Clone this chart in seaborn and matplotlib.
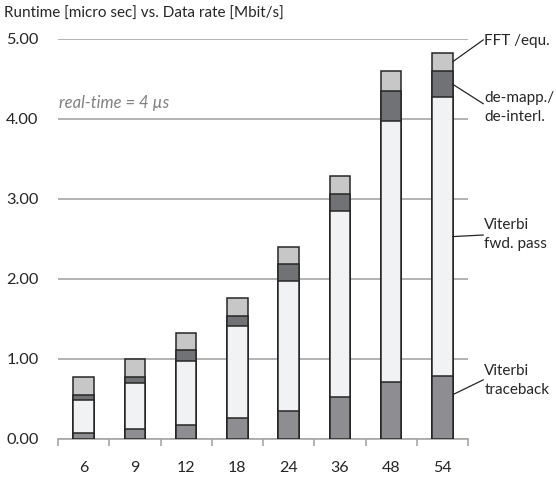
import numpy as np
import pandas as pd
import matplotlib
matplotlib.use("Agg")
import matplotlib.pyplot as plt
import seaborn as sns

# ---- data ----
rates = ["6", "9", "12", "18", "24", "36", "48", "54"]
traceback = [0.08, 0.125, 0.175, 0.26, 0.35, 0.53, 0.71, 0.79]
fwd_pass = [0.41, 0.575, 0.805, 1.15, 1.63, 2.32, 3.27, 3.48]
demapp = [0.06, 0.075, 0.13, 0.13, 0.21, 0.21, 0.37, 0.33]
fft_equ = [0.23, 0.225, 0.22, 0.22, 0.21, 0.23, 0.25, 0.23]
yticks = [0, 1, 2, 3, 4, 5]
series_labels = ["Viterbi\ntraceback", "Viterbi\nfwd. pass", "de-mapp./\nde-interl.", "FFT /equ."]
title = "Runtime [micro sec] vs. Data rate [Mbit/s]"
realtime_label = "real-time = 4 µs"

sns.set_theme(style="white")
plt.rcParams['font.family'] = ['Lato', 'DejaVu Sans']

colors = ["#8e8e92", "#f1f2f4", "#717275", "#c7c7c7"]
series = [traceback, fwd_pass, demapp, fft_equ]

df = pd.DataFrame({"rate": rates})
cum = np.zeros(len(rates))
cols = []
for i, s in enumerate(series):
    cum = cum + np.array(s)
    df[f"c{i}"] = cum
    cols.append(f"c{i}")

fig = plt.figure(figsize=(5.56, 4.83), dpi=100)
ax = fig.add_axes([58/556, 44/483, 410/556, 400/483])

for c, col in zip(reversed(cols), reversed(colors)):
    sns.barplot(data=df, x="rate", y=c, order=rates, color=col, width=0.4,
                edgecolor="#262626", linewidth=1.1, saturation=1, ax=ax, zorder=3)

ax.set_ylim(0, 5)
ax.set_xlim(-0.5, len(rates) - 0.5)
ax.set_yticks(yticks)
ax.set_yticklabels([f"{v:.2f}" for v in yticks])
ax.yaxis.grid(True, color="#a6a6a6", linewidth=1.2, zorder=0)
ax.set_axisbelow(True)
for sp in ["top", "right", "left"]:
    ax.spines[sp].set_visible(False)
ax.spines["bottom"].set_color("#a6a6a6")
ax.spines["bottom"].set_linewidth(1.2)
ax.set_xlabel("")
ax.set_ylabel("")
ax.tick_params(axis="y", length=0, pad=14, labelsize=11.8, labelcolor="#262626")
ax.tick_params(axis="x", which="major", length=0, pad=16, labelsize=11.5, labelcolor="#262626")
ax.set_xticks(np.arange(-0.5, len(rates), 1.0), minor=True)
ax.tick_params(axis="x", which="minor", length=5, width=1.2, color="#a6a6a6", direction="out", bottom=True)

fig.text(4/556, 1 - 14/483, title, fontsize=11, color="#262626", va="center", ha="left")

ax.text(-0.48, 4.2, realtime_label, fontsize=12, style="italic", color="#808080",
        va="center", ha="left")

# annotations for last bar
last = len(rates) - 1
bx = last + 0.2
tx = 7.80
bottoms = [0.0] + [df[c].iloc[last] for c in cols[:-1]]
tops = [df[c].iloc[last] for c in cols]
fracs = [0.7, 0.5, 0.5, 0.5]
ends = [0.74, 2.55, 4.19, 4.99]
text_y = [0.73, 2.56, 4.14, 4.97]
for lab, b, t, f, ye, ty in zip(series_labels, bottoms, tops, fracs, ends, text_y):
    y0 = b + f * (t - b)
    ax.annotate("", xy=(tx, ye), xytext=(bx, y0), annotation_clip=False,
                arrowprops=dict(arrowstyle="-", color="#262626", lw=0.9, shrinkA=0, shrinkB=0))
    ax.text(tx + 0.02, ty, lab, fontsize=11, color="#262626", ha="left", va="center",
            linespacing=1.45, clip_on=False)

fig.savefig("out.png", dpi=100)
